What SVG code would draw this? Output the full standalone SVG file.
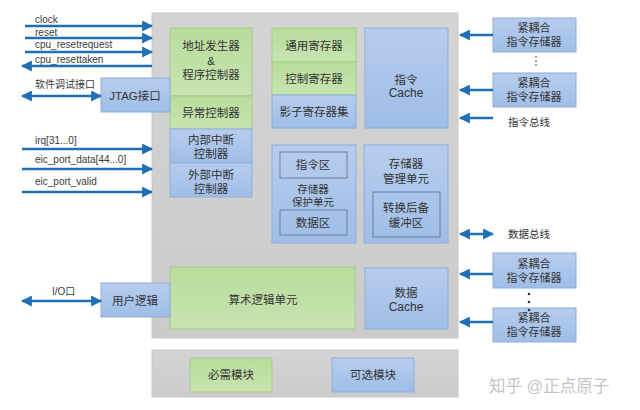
<svg xmlns="http://www.w3.org/2000/svg" width="640" height="410" viewBox="0 0 640 410">
<style>
text{font-family:"Liberation Sans","Noto Sans CJK SC",sans-serif;fill:#333;text-anchor:middle}
.cn{font-size:11.5px}
.lbl{font-size:10px;text-anchor:start;fill:#3a3a3a}
.g{fill:url(#gg);stroke:#a8cc8c;stroke-width:1}
.b{fill:url(#bg);stroke:#8eaedb;stroke-width:1}
.in{fill:none;stroke:#6f7f99;stroke-width:1}
.gray{fill:url(#gr);stroke:#c8c8c8}
.ar{stroke:#1f6fb5;stroke-width:2.5;fill:none}
</style>
<defs>
<linearGradient id="gg" x1="0" y1="0" x2="0" y2="1"><stop offset="0" stop-color="#b8dc9c"/><stop offset="1" stop-color="#c8e4b0"/></linearGradient>
<linearGradient id="bg" x1="0" y1="0" x2="0" y2="1"><stop offset="0" stop-color="#b7cdef"/><stop offset="1" stop-color="#9fbde6"/></linearGradient>
<linearGradient id="gr" x1="0" y1="0" x2="0" y2="1"><stop offset="0" stop-color="#d4d4d4"/><stop offset="1" stop-color="#cbcbcb"/></linearGradient>
<marker id="ah" viewBox="0 0 10 10" refX="9" refY="5" markerWidth="4.4" markerHeight="4.4" orient="auto-start-reverse"><path d="M0,0 L10,5 L0,10 Z" fill="#1f6fb5"/></marker>
</defs>
<rect width="640" height="410" fill="#fff"/>
<g id="core"><rect class="gray" x="152" y="13" width="306" height="325"/></g>
<g id="legend"><rect class="gray" x="152" y="350" width="306" height="47"/></g>

<g id="agu"><rect class="g" x="170" y="28" width="82" height="68"/><text class="cn" x="211" y="50">地址发生器</text><text class="cn" x="211" y="65">&amp;</text><text class="cn" x="211" y="79">程序控制器</text></g>
<g id="exc"><rect class="g" x="170" y="96" width="82" height="33"/><text class="cn" x="211" y="117">异常控制器</text></g>
<g id="iic"><rect class="b" x="170" y="129" width="82" height="34"/><text class="cn" x="211" y="144">内部中断</text><text class="cn" x="211" y="158">控制器</text></g>
<g id="eic"><rect class="b" x="170" y="163" width="82" height="34"/><text class="cn" x="211" y="179">外部中断</text><text class="cn" x="211" y="193">控制器</text></g>

<g id="gpr"><rect class="g" x="272" y="28" width="84" height="34"/><text class="cn" x="314" y="50">通用寄存器</text></g>
<g id="cpr"><rect class="g" x="272" y="62" width="84" height="33"/><text class="cn" x="314" y="83">控制寄存器</text></g>
<g id="srs"><rect class="b" x="272" y="95" width="84" height="33"/><text class="cn" x="314" y="116">影子寄存器集</text></g>

<g id="icache"><rect class="b" x="365" y="28" width="83" height="100"/><text class="cn" x="406" y="84">指令</text><text style="font-size:12px" x="406" y="97">Cache</text></g>

<g id="mpu"><rect class="b" x="272" y="145" width="84" height="98"/>
<rect class="in" x="280" y="152" width="67" height="26"/><text class="cn" x="313" y="169">指令区</text>
<text style="font-size:10.5px" x="313" y="193">存储器</text><text style="font-size:10.5px" x="313" y="206">保护单元</text>
<rect class="in" x="280" y="210" width="67" height="25"/><text class="cn" x="313" y="227">数据区</text></g>

<g id="mmu"><rect class="b" x="364" y="145" width="84" height="98"/>
<text class="cn" x="406" y="168">存储器</text><text class="cn" x="406" y="183">管理单元</text>
<rect class="in" x="373" y="192" width="67" height="45"/><text class="cn" x="406" y="212">转换后备</text><text class="cn" x="406" y="227">缓冲区</text></g>

<g id="alu"><rect class="g" x="170" y="267" width="185" height="62"/><text class="cn" x="263" y="304">算术逻辑单元</text></g>
<g id="dcache"><rect class="b" x="365" y="268" width="83" height="61"/><text class="cn" x="406" y="297">数据</text><text style="font-size:12px" x="406" y="311">Cache</text></g>

<g id="jtag"><rect class="b" x="101" y="78" width="69" height="34"/><text class="cn" x="135" y="100">JTAG接口</text></g>
<g id="user"><rect class="b" x="101" y="283" width="69" height="34"/><text class="cn" x="135" y="305">用户逻辑</text></g>

<g id="req"><rect class="g" x="190" y="358" width="82" height="34"/><text class="cn" x="231" y="379">必需模块</text></g>
<g id="opt"><rect class="b" x="332" y="358" width="82" height="34"/><text class="cn" x="373" y="379">可选模块</text></g>

<g id="tcm1"><rect class="b" x="493" y="18" width="83" height="34"/><text style="font-size:11px" x="534" y="32">紧耦合</text><text style="font-size:11px" x="534" y="46">指令存储器</text></g>
<g id="tcm2"><rect class="b" x="493" y="73" width="83" height="34"/><text style="font-size:11px" x="534" y="87">紧耦合</text><text style="font-size:11px" x="534" y="101">指令存储器</text></g>
<g id="tcm3"><rect class="b" x="493" y="253" width="83" height="35"/><text style="font-size:11px" x="534" y="268">紧耦合</text><text style="font-size:11px" x="534" y="282">指令存储器</text></g>
<g id="tcm4"><rect class="b" x="493" y="308" width="83" height="34"/><text style="font-size:11px" x="534" y="322">紧耦合</text><text style="font-size:11px" x="534" y="336">指令存储器</text></g>

<g id="dots" fill="#333"><circle cx="536" cy="57" r="0.8"/><circle cx="536" cy="61" r="0.8"/><circle cx="536" cy="65" r="0.8"/>
<circle cx="529" cy="294" r="1.3"/><circle cx="529" cy="302" r="1.3"/><circle cx="529" cy="310" r="1.3"/></g>

<g id="labels">
<text class="lbl" x="35" y="23">clock</text>
<text class="lbl" x="35" y="36">reset</text>
<text class="lbl" x="35" y="48">cpu_resetrequest</text>
<text class="lbl" x="35" y="63">cpu_resettaken</text>
<text class="lbl" x="35" y="88">软件调试接口</text>
<text class="lbl" x="35" y="144">irq[31...0]</text>
<text class="lbl" x="35" y="163">eic_port_data[44...0]</text>
<text class="lbl" x="35" y="185">eic_port_valid</text>
<text class="lbl" x="52" y="295">I/O口</text>
<text style="font-size:10.5px;text-anchor:start" x="508" y="126">指令总线</text>
<text style="font-size:10.5px;text-anchor:start" x="508" y="238">数据总线</text>
<text style="font-size:16.5px;text-anchor:start;fill:#c4c4c4" x="489" y="392">知乎 @正点原子</text>
</g>

<g id="connectors">
<line class="ar" x1="25" y1="26" x2="152" y2="26" marker-end="url(#ah)"/>
<line class="ar" x1="25" y1="38" x2="152" y2="38" marker-end="url(#ah)"/>
<line class="ar" x1="25" y1="52" x2="152" y2="52" marker-end="url(#ah)"/>
<line class="ar" x1="152" y1="66" x2="22" y2="66" marker-end="url(#ah)"/>
<line class="ar" x1="22" y1="96" x2="101" y2="96" marker-start="url(#ah)" marker-end="url(#ah)"/>
<line class="ar" x1="22" y1="149" x2="152" y2="149" marker-end="url(#ah)"/>
<line class="ar" x1="22" y1="169" x2="152" y2="169" marker-end="url(#ah)"/>
<line class="ar" x1="22" y1="192" x2="152" y2="192" marker-end="url(#ah)"/>
<line class="ar" x1="22" y1="301" x2="101" y2="301" marker-start="url(#ah)" marker-end="url(#ah)"/>
<line class="ar" x1="493" y1="35" x2="460" y2="35" marker-end="url(#ah)"/>
<line class="ar" x1="493" y1="90" x2="460" y2="90" marker-end="url(#ah)"/>
<line class="ar" x1="493" y1="118" x2="460" y2="118" marker-end="url(#ah)"/>
<line class="ar" x1="460" y1="234" x2="493" y2="234" marker-start="url(#ah)" marker-end="url(#ah)"/>
<line class="ar" x1="493" y1="274" x2="460" y2="274" marker-end="url(#ah)"/>
<line class="ar" x1="493" y1="322" x2="460" y2="322" marker-end="url(#ah)"/>
</g>
</svg>
